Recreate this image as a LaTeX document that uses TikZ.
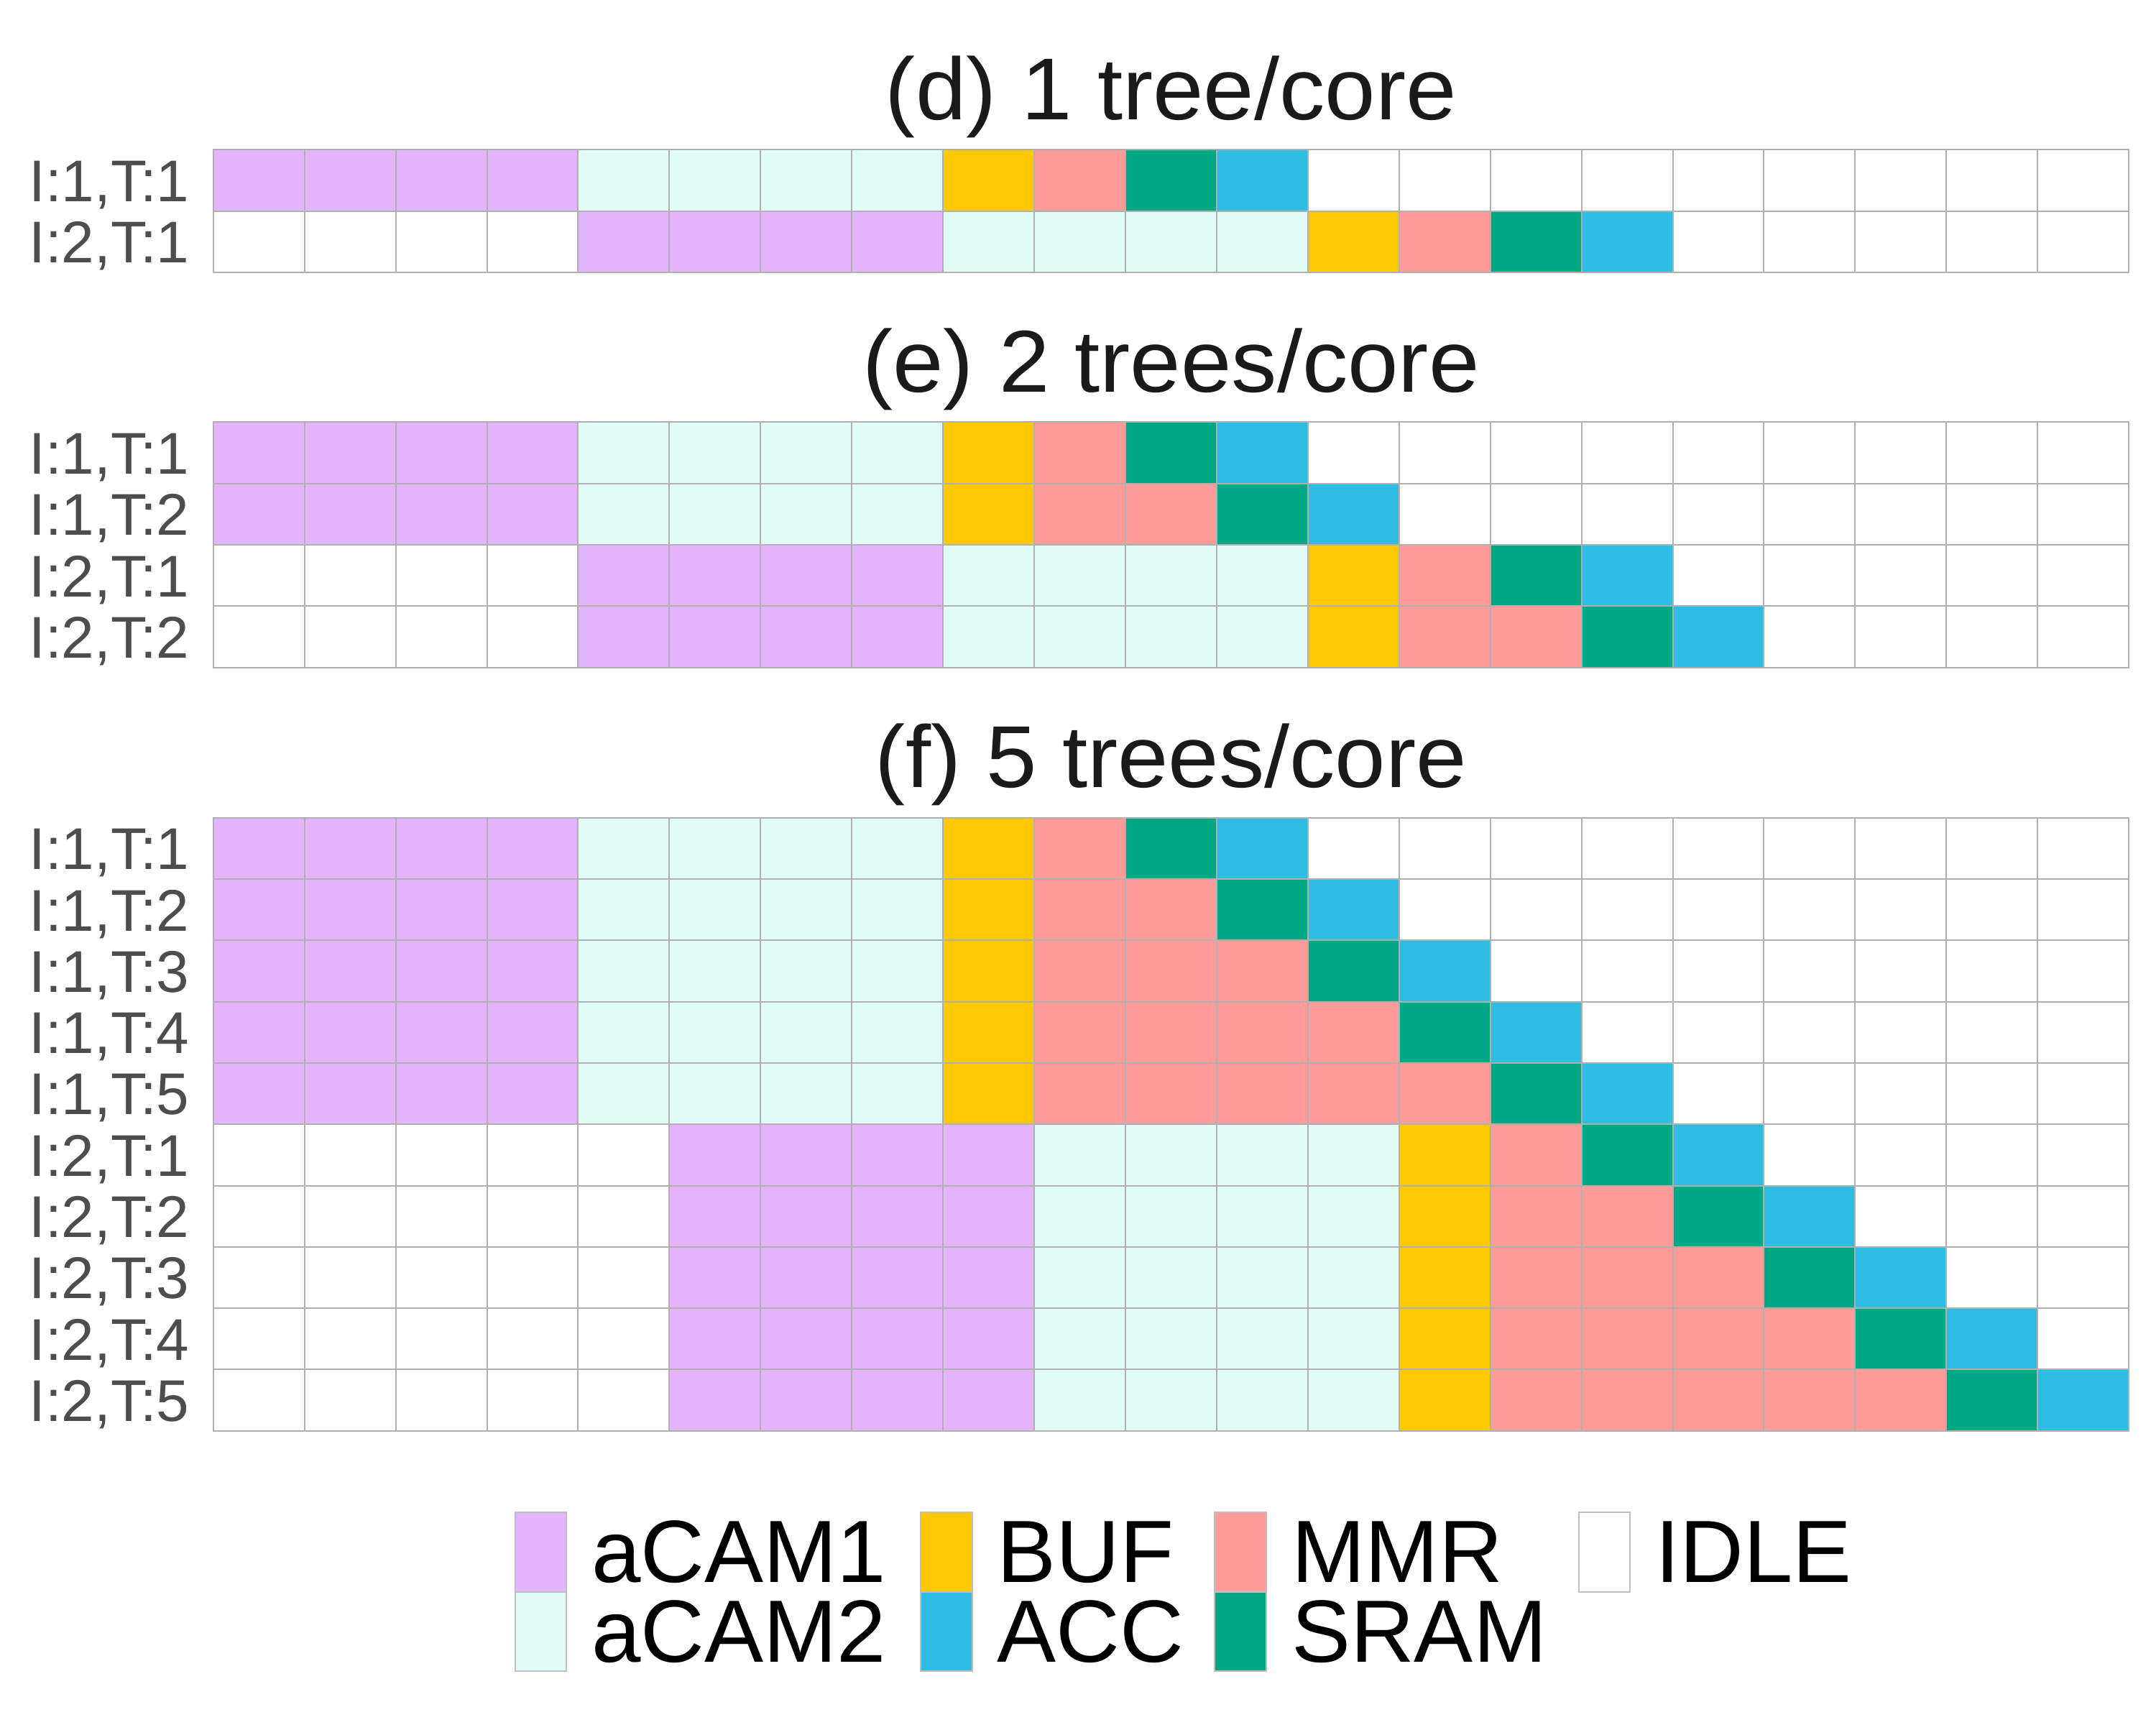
\documentclass[tikz,border=0pt]{standalone}
\usepackage{fontspec}
\setmainfont{Liberation Sans}
\newfontfamily\titlefont[FakeStretch=1.035]{Liberation Sans}
\usepackage{xcolor}
\usepackage{tikz}
\usetikzlibrary{positioning,calc}

\definecolor{acamone}{HTML}{E4B4FC}
\definecolor{acamtwo}{HTML}{E2FCF7}
\definecolor{bufcol}{HTML}{FFC800}
\definecolor{mmrcol}{HTML}{FF9C9A}
\definecolor{sramcol}{HTML}{00A884}
\definecolor{acccol}{HTML}{2EBCE3}
\definecolor{gridcol}{HTML}{B0B0B0}
\definecolor{labcol}{HTML}{4D4D4D}
\definecolor{titcol}{HTML}{1A1A1A}

\newcommand{\gx}{2.968}
\newcommand{\cw}{1.2692}
\newcommand{\rh}{0.853}

% one time slot of the schedule
\newcommand{\tslot}[3]{\draw[cell,fill=#3] ({\gx+(#1)*\cw},#2) rectangle ++(\cw,-\rh);}

% one row: name, label, top, offset, number of MMR slots
\newcommand{\schedrow}[5]{%
  \node[rowlab] (#1) at (2.64,{#3-0.5*\rh-0.2936}) {#2};
  \foreach \c in {0,...,20} {\tslot{\c}{#3}{white}}
  \foreach \c in {0,...,3} {\tslot{#4+\c}{#3}{acamone}}
  \foreach \c in {4,...,7} {\tslot{#4+\c}{#3}{acamtwo}}
  \tslot{#4+8}{#3}{bufcol}
  \foreach \c in {1,...,#5} {\tslot{#4+8+\c}{#3}{mmrcol}}
  \tslot{#4+9+#5}{#3}{sramcol}
  \tslot{#4+10+#5}{#3}{acccol}
}

\begin{document}
\begin{tikzpicture}[
  cell/.style={draw=gridcol, line width=0.02cm},
  rowlab/.style={anchor=base east, inner sep=0pt, text=labcol,
    font=\fontsize{23.3pt}{28pt}\selectfont},
  paneltitle/.style={anchor=base, inner sep=0pt, text=titcol,
    font=\titlefont\fontsize{34.8pt}{40pt}\selectfont},
  legkey/.style={draw=black!25, line width=0.02cm, inner sep=0pt, anchor=north west,
    minimum width=0.717cm, minimum height=1.105cm},
  legtext/.style={anchor=base west, inner sep=0pt, text=black,
    font=\fontsize{35pt}{40pt}\selectfont}]

\fill[white] (0,0) rectangle (30,-24);
\useasboundingbox (0,0) rectangle (30,-24);

% (d) one tree per core
\node[paneltitle] (td) at (16.294,-1.667) {(d) 1 tree/core};
\schedrow{d1}{I:1,T:1}{-2.083}{0}{1}
\schedrow{d2}{I:2,T:1}{-2.936}{4}{1}

% (e) two trees per core
\node[paneltitle] (te) at (16.294,-5.457) {(e) 2 trees/core};
\foreach \t in {1,2} {
  \pgfmathsetmacro\ytop{-5.874-(\t-1)*\rh}
  \schedrow{e1\t}{I:1,T:\t}{\ytop}{0}{\t}
}
\foreach \t in {1,2} {
  \pgfmathsetmacro\ytop{-5.874-(\t+1)*\rh}
  \schedrow{e2\t}{I:2,T:\t}{\ytop}{4}{\t}
}

% (f) five trees per core
\node[paneltitle] (tf) at (16.294,-10.957) {(f) 5 trees/core};
\foreach \t in {1,...,5} {
  \pgfmathsetmacro\ytop{-11.377-(\t-1)*\rh}
  \schedrow{f1\t}{I:1,T:\t}{\ytop}{0}{\t}
}
\foreach \t in {1,...,5} {
  \pgfmathsetmacro\ytop{-11.377-(\t+4)*\rh}
  \schedrow{f2\t}{I:2,T:\t}{\ytop}{5}{\t}
}

% legend
\foreach \name/\col/\txt/\kx/\ky in {
    acamA/acamone/aCAM1/7.155/-21.033, acamB/acamtwo/aCAM2/7.155/-22.138,
    buf/bufcol/BUF/12.80/-21.033, acc/acccol/ACC/12.80/-22.138,
    mmr/mmrcol/MMR/16.894/-21.033, sram/sramcol/SRAM/16.894/-22.138,
    idle/white/IDLE/21.955/-21.033} {
  \node[legkey, fill=\col] (k-\name) at (\kx,\ky) {};
  \node[legtext] (l-\name) at ([xshift=1.07cm,yshift=-0.984cm]k-\name.north west) {\txt};
}

\end{tikzpicture}
\end{document}
